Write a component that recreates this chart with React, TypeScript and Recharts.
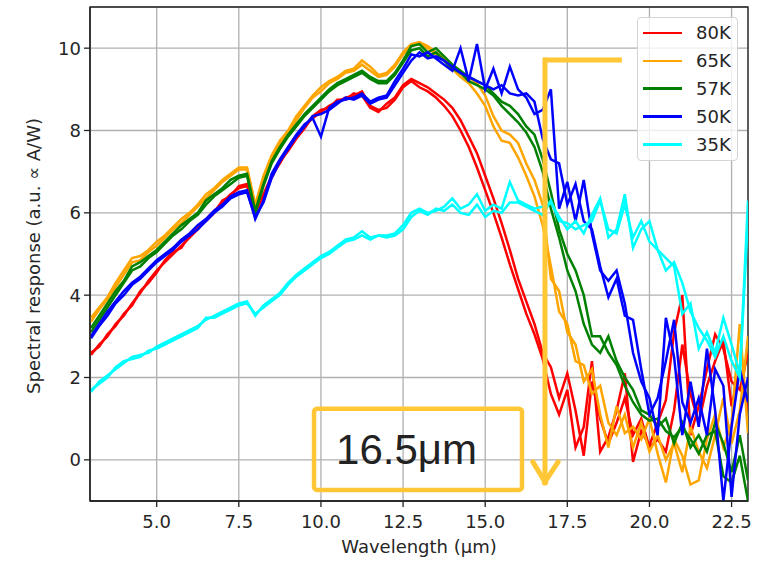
import { CartesianGrid, Line, LineChart, ReferenceArea, ReferenceLine, XAxis, YAxis } from "recharts";

// wavelength grid (µm)
const WAVELENGTH = [
  3, 3.25, 3.5, 3.75, 4, 4.25, 4.5, 4.75, 5, 5.25, 5.5, 5.75, 6, 6.25, 6.5, 6.75,
  7, 7.25, 7.5, 7.75, 8, 8.25, 8.5, 8.75, 9, 9.25, 9.5, 9.75, 10, 10.25, 10.5, 10.75,
  11, 11.25, 11.5, 11.75, 12, 12.25, 12.5, 12.75, 13, 13.25, 13.5, 13.75, 14, 14.25, 14.5, 14.75,
  15, 15.25, 15.5, 15.75, 16, 16.25, 16.5, 16.75, 17, 17.25, 17.5, 17.75, 18, 18.25, 18.5, 18.75,
  19, 19.25, 19.5, 19.75, 20, 20.25, 20.5, 20.75, 21, 21.25, 21.5, 21.75, 22, 22.25, 22.5, 22.75,
  23,
];

// two scans per temperature
const K80_A = [
  2.55, 2.8, 3.0, 3.3, 3.5, 3.8, 4.05, 4.35, 4.6, 4.8, 5.0, 5.2, 5.4, 5.6, 5.85, 6.05,
  6.25, 6.45, 6.6, 6.65, 6.0, 6.45, 6.9, 7.2, 7.55, 7.85, 8.1, 8.3, 8.45, 8.6, 8.7, 8.8,
  8.85, 8.95, 8.6, 8.5, 8.55, 8.75, 9.05, 9.2, 9.05, 8.95, 8.8, 8.6, 8.35, 8.0, 7.6, 7.1,
  6.55, 6.0, 5.4, 4.75, 4.15, 3.55, 3.05, 2.45, 1.6, 1.1, 1.7, 0.3, 0.8, 2.4, 0.2, 0.55,
  1.2, 2.1, -0.05, 0.7, 0.35, 0.9, 1.45, 3.1, 4.0, 0.6, 1.3, 2.2, 3.05, 2.7, 1.9, 1.7,
  2.6,
];
const K80_B = [
  2.6, 2.75, 3.05, 3.25, 3.55, 3.75, 4.1, 4.3, 4.55, 4.85, 5.05, 5.15, 5.45, 5.65, 5.8, 6.0,
  6.3, 6.4, 6.65, 6.7, 6.05, 6.4, 6.85, 7.25, 7.5, 7.8, 8.05, 8.35, 8.5, 8.55, 8.75, 8.75,
  8.9, 8.85, 8.55, 8.45, 8.65, 8.8, 9.1, 9.25, 9.15, 9.05, 8.9, 8.75, 8.55, 8.25, 7.85, 7.45,
  6.9, 6.35, 5.75, 5.1, 4.4, 3.85, 3.3, 2.6, 2.25, 1.5, 2.1, 1.2, 0.1, 1.9, 1.0, 0.4,
  0.9, 1.5, 0.6, 1.0, 0.3, 0.5, 0.2, 1.2, 2.8, 1.6, 0.9, 1.8, 2.4, 2.9, 1.3, 2.2,
  1.2,
];
const K65_A = [
  3.45, 3.7, 3.95, 4.3, 4.6, 4.9, 4.95, 5.1, 5.3, 5.45, 5.65, 5.85, 6.0, 6.2, 6.45, 6.6,
  6.8, 6.95, 7.1, 7.1, 6.2, 6.9, 7.4, 7.75, 8.0, 8.35, 8.6, 8.85, 9.05, 9.2, 9.3, 9.45,
  9.5, 9.7, 9.55, 9.35, 9.4, 9.6, 9.9, 10.1, 10.15, 10.05, 9.9, 9.75, 9.6, 9.4, 9.3, 9.15,
  8.85, 8.35, 8.0, 7.9, 7.7, 7.2, 6.8, 6.2, 4.4, 4.1, 3.1, 2.8, 1.9, 2.2, 1.1, 0.3,
  1.3, 0.65, 0.8, 0.5, 1.0, 0.15, -0.55, 0.5, 0.1, -0.6, -0.5, 0.5, 1.1, 0.3, 0.9, 3.3,
  0.65,
];
const K65_B = [
  3.35, 3.65, 3.9, 4.2, 4.5, 4.8, 4.85, 5.05, 5.2, 5.4, 5.6, 5.75, 5.95, 6.15, 6.35, 6.55,
  6.75, 6.9, 7.05, 7.05, 6.15, 6.8, 7.35, 7.7, 7.95, 8.25, 8.55, 8.8, 8.95, 9.15, 9.25, 9.4,
  9.45, 9.6, 9.45, 9.3, 9.35, 9.55, 9.85, 10.05, 10.1, 10.0, 9.85, 9.7, 9.5, 9.3, 9.15, 8.9,
  8.6, 8.1, 7.75, 7.7, 7.35, 6.9, 6.4, 5.7, 4.7, 3.6, 3.3, 2.4, 2.3, 1.6, 1.8, 0.9,
  0.6, 1.1, 0.3, 0.9, 0.2, 0.6, 0.0, 0.4, -0.3, 0.8, 0.2, -0.2, 0.6, 1.5, 0.4, 1.2,
  3.0,
];
const K57_A = [
  3.2, 3.5, 3.8, 4.1, 4.35, 4.7, 4.8, 4.95, 5.1, 5.3, 5.5, 5.7, 5.85, 6.0, 6.3, 6.45,
  6.6, 6.8, 6.9, 6.95, 6.05, 6.7, 7.25, 7.6, 7.9, 8.15, 8.4, 8.6, 8.8, 9.0, 9.15, 9.25,
  9.35, 9.45, 9.3, 9.2, 9.2, 9.4, 9.7, 10.05, 10.1, 9.9, 10.0, 9.8, 9.6, 9.45, 9.3, 9.2,
  9.1, 8.9, 8.7, 8.6, 8.4, 8.1, 7.9, 7.3, 6.5, 5.6, 5.0, 4.6, 4.0, 3.0, 3.0, 2.6,
  2.3, 1.8, 1.4, 1.1, 0.95, 1.0, 0.7, 0.55, 0.8, 0.5, 0.15, 0.6, 0.7, -0.4, -0.55, 0.1,
  -1.0,
];
const K57_B = [
  3.1, 3.4, 3.7, 4.0, 4.3, 4.6, 4.7, 4.9, 5.05, 5.25, 5.45, 5.6, 5.8, 5.95, 6.2, 6.4,
  6.55, 6.7, 6.85, 6.9, 6.0, 6.65, 7.2, 7.55, 7.85, 8.1, 8.35, 8.55, 8.75, 8.95, 9.1, 9.2,
  9.3, 9.4, 9.25, 9.15, 9.15, 9.35, 9.65, 9.95, 10.0, 9.8, 9.9, 9.7, 9.5, 9.4, 9.2, 9.1,
  9.0, 8.85, 8.6, 8.4, 8.2, 7.95, 7.6, 7.0, 6.1, 5.4, 4.6, 4.1, 3.3, 2.8, 2.6, 3.0,
  2.4, 2.0, 1.7, 1.2, 1.1, 0.8, 1.0, 0.4, 0.9, 0.3, 0.6, 0.2, 0.9, 0.4, -0.3, 0.6,
  -0.5,
];
const K50_A = [
  3.0, 3.3, 3.6, 3.85, 4.1, 4.3, 4.45, 4.65, 4.85, 5.0, 5.15, 5.35, 5.5, 5.7, 5.85, 6.05,
  6.2, 6.4, 6.5, 6.55, 5.85, 6.3, 6.95, 7.3, 7.6, 7.9, 8.15, 8.3, 7.85, 8.55, 8.7, 8.75,
  8.8, 8.9, 8.7, 8.8, 8.85, 9.2, 9.5, 9.85, 9.8, 9.9, 9.75, 9.6, 9.45, 10.0, 9.2, 10.1,
  9.0, 9.5, 8.9, 9.55, 9.0, 8.8, 8.4, 8.5, 9.0, 6.1, 6.75, 5.8, 6.8, 5.5, 4.6, 4.35,
  4.6, 3.8, 2.6, 1.9, 1.5, 0.6, 3.45, 2.5, 0.6, 1.9, 0.8, 2.7, 1.2, -1.0, 0.8, 2.2,
  1.4,
];
const K50_B = [
  2.95, 3.25, 3.5, 3.8, 4.0, 4.25, 4.4, 4.6, 4.8, 4.95, 5.1, 5.3, 5.45, 5.6, 5.8, 6.0,
  6.15, 6.35, 6.45, 6.5, 5.9, 6.25, 6.85, 7.25, 7.55, 7.85, 8.1, 8.35, 8.4, 8.5, 8.65, 8.8,
  8.75, 8.85, 8.65, 8.75, 8.8, 9.1, 9.4, 9.7, 9.9, 9.75, 9.8, 9.7, 9.55, 9.4, 9.3, 9.2,
  9.1, 9.0, 9.1, 8.9, 8.85, 8.9, 8.7, 7.8, 7.3, 7.2, 6.2, 6.7, 5.8, 5.6, 4.7, 3.95,
  4.4, 3.5, 3.4, 2.2, 1.1, 1.5, 2.4, 3.4, 1.4, 0.9, 1.5, 0.6, 2.2, 1.8, -0.9, 1.1,
  2.0,
];
const K35_A = [
  1.65, 1.9, 2.05, 2.2, 2.35, 2.5, 2.55, 2.6, 2.75, 2.85, 2.95, 3.05, 3.15, 3.25, 3.4, 3.5,
  3.6, 3.7, 3.8, 3.85, 3.5, 3.75, 3.9, 4.05, 4.3, 4.5, 4.65, 4.8, 4.95, 5.05, 5.2, 5.35,
  5.4, 5.55, 5.4, 5.45, 5.45, 5.5, 5.7, 6.0, 6.1, 6.0, 6.05, 6.15, 6.35, 6.1, 6.2, 6.45,
  6.05, 6.2, 6.1, 6.75, 6.3, 6.2, 6.1, 6.15, 6.25, 5.9, 5.6, 5.8, 5.5, 5.95, 6.35, 5.4,
  5.6, 6.45, 5.15, 5.6, 5.8, 5.1, 4.9, 4.7, 3.55, 3.8, 2.7, 3.1, 2.6, 3.45, 2.8, 2.1,
  6.3,
];
const K35_B = [
  1.7, 1.85, 2.0, 2.25, 2.4, 2.45, 2.5, 2.65, 2.7, 2.8, 2.9, 3.0, 3.1, 3.2, 3.45, 3.45,
  3.55, 3.65, 3.75, 3.8, 3.55, 3.7, 3.85, 4.0, 4.25, 4.45, 4.6, 4.75, 4.9, 5.0, 5.15, 5.3,
  5.35, 5.45, 5.35, 5.45, 5.4, 5.45, 5.6, 5.9, 6.05, 5.95, 6.1, 6.05, 6.2, 6.0, 5.95, 6.2,
  5.9, 6.05, 6.0, 6.25, 6.25, 6.15, 6.05, 5.95, 6.3, 5.8, 5.75, 5.6, 5.7, 5.8, 6.3, 5.6,
  5.5, 6.2, 5.4, 5.8, 5.3, 5.1, 4.6, 4.8, 4.3, 3.6, 3.2, 2.9, 2.5, 3.0, 2.4, 2.0,
  5.9,
];

const SERIES = [
  { label: "80K", color: "#ff0000", keys: ["k80a", "k80b"] },
  { label: "65K", color: "#ffa500", keys: ["k65a", "k65b"] },
  { label: "57K", color: "#008000", keys: ["k57a", "k57b"] },
  { label: "50K", color: "#0000ff", keys: ["k50a", "k50b"] },
  { label: "35K", color: "#00ffff", keys: ["k35a", "k35b"] },
];

const data = WAVELENGTH.map((w, i) => ({
  w,
  k80a: K80_A[i],
  k80b: K80_B[i],
  k65a: K65_A[i],
  k65b: K65_B[i],
  k57a: K57_A[i],
  k57b: K57_B[i],
  k50a: K50_A[i],
  k50b: K50_B[i],
  k35a: K35_A[i],
  k35b: K35_B[i],
}));

const X_TICKS = [5, 7.5, 10, 12.5, 15, 17.5, 20, 22.5];
const Y_TICKS = [0, 2, 4, 6, 8, 10];
const XMIN = 2.97;
const XMAX = 23.0;
const YMIN = -1;
const YMAX = 11;

// cutoff annotation (data coords)
const CUT = 16.82;
const CUT_TOP = 9.71;
const CUT_BOTTOM = -0.56;
const BOX = { x1: 9.79, x2: 16.12, y1: -0.73, y2: 1.24 };

const FONT = "'DejaVu Sans', sans-serif";
const TEXT = "#262626";
const GOLD = "#ffc735";
const TICK = { fontSize: 18, fill: TEXT, fontFamily: FONT };

function LegendBox() {
  return (
    <div
      style={{
        position: "absolute",
        left: 637,
        top: 17,
        width: 101,
        height: 144,
        boxSizing: "border-box",
        paddingTop: 1,
        border: "1px solid #d4d4d4",
        borderRadius: 4,
        background: "rgba(255,255,255,0.8)",
        fontFamily: FONT,
        fontSize: 18,
        color: TEXT,
      }}
    >
      {SERIES.map((s) => (
        <div key={s.label} style={{ display: "flex", alignItems: "center", height: 27.9 }}>
          <span style={{ marginLeft: 5, width: 39, height: 2.5, background: s.color }} />
          <span style={{ marginLeft: 14, lineHeight: 1 }}>{s.label}</span>
        </div>
      ))}
    </div>
  );
}

export default function App() {
  return (
    <div style={{ position: "relative", width: 773, height: 562, background: "#fff" }}>
      <style>{"body{margin:0}"}</style>
      <LineChart width={773} height={562} data={data} margin={{ top: 7, right: 25, bottom: 0, left: 40 }}>
        <CartesianGrid stroke="#b0b0b0" strokeWidth={1.3} />
        <XAxis
          type="number"
          dataKey="w"
          domain={[XMIN, XMAX]}
          ticks={X_TICKS}
          allowDataOverflow
          tickFormatter={(v: number) => v.toFixed(1)}
          tick={TICK}
          tickSize={6}
          tickMargin={8}
          height={61}
          stroke="#222"
          strokeWidth={1.3}
          label={{
            content: () => (
              <text x={419} y={553} textAnchor="middle" fontSize={18} fontFamily={FONT} fill={TEXT}>
                Wavelength (µm)
              </text>
            ),
          }}
        />
        <YAxis
          type="number"
          domain={[YMIN, YMAX]}
          ticks={Y_TICKS}
          allowDataOverflow
          tick={TICK}
          tickSize={6}
          tickMargin={3}
          width={50}
          stroke="#222"
          strokeWidth={1.3}
          label={{
            content: () => (
              <text
                x={33}
                y={256}
                transform="rotate(-90 33 256)"
                textAnchor="middle"
                dominantBaseline="central"
                fontSize={18}
                fontFamily={FONT}
                fill={TEXT}
              >
                Spectral response (a.u. ∝ A/W)
              </text>
            ),
          }}
        />
        {SERIES.flatMap((s) =>
          s.keys.map((k) => (
            <Line
              key={k}
              type="linear"
              dataKey={k}
              stroke={s.color}
              strokeWidth={2.5}
              dot={false}
              isAnimationActive={false}
            />
          ))
        )}
        <ReferenceArea
          x1={XMIN}
          x2={XMAX}
          y1={YMIN}
          y2={YMAX}
          fill="none"
          stroke="#222"
          strokeWidth={1.3}
          ifOverflow="visible"
        />
        <ReferenceArea
          x1={BOX.x1}
          x2={BOX.x2}
          y1={BOX.y1}
          y2={BOX.y2}
          fill="none"
          fillOpacity={0}
          stroke={GOLD}
          strokeWidth={4.5}
          radius={3}
          ifOverflow="visible"
          label={{
            value: "16.5μm",
            position: "insideLeft",
            offset: 22,
            fontSize: 42,
            fill: "#222",
            fontFamily: "'Liberation Sans', Arial, sans-serif",
          }}
        />
        <ReferenceLine
          segment={[{ x: 16.76, y: CUT_TOP }, { x: 19.16, y: CUT_TOP }]}
          stroke={GOLD}
          strokeWidth={5}
          ifOverflow="visible"
        />
        <ReferenceLine
          segment={[{ x: CUT, y: CUT_TOP + 0.06 }, { x: CUT, y: CUT_BOTTOM + 0.1 }]}
          stroke={GOLD}
          strokeWidth={5}
          ifOverflow="visible"
        />
        <ReferenceLine
          segment={[{ x: 16.45, y: -0.05 }, { x: CUT + 0.02, y: CUT_BOTTOM }]}
          stroke={GOLD}
          strokeWidth={5}
          strokeLinecap="round"
          ifOverflow="visible"
        />
        <ReferenceLine
          segment={[{ x: 17.22, y: -0.05 }, { x: CUT - 0.02, y: CUT_BOTTOM }]}
          stroke={GOLD}
          strokeWidth={5}
          strokeLinecap="round"
          ifOverflow="visible"
        />
      </LineChart>
      <LegendBox />
    </div>
  );
}
